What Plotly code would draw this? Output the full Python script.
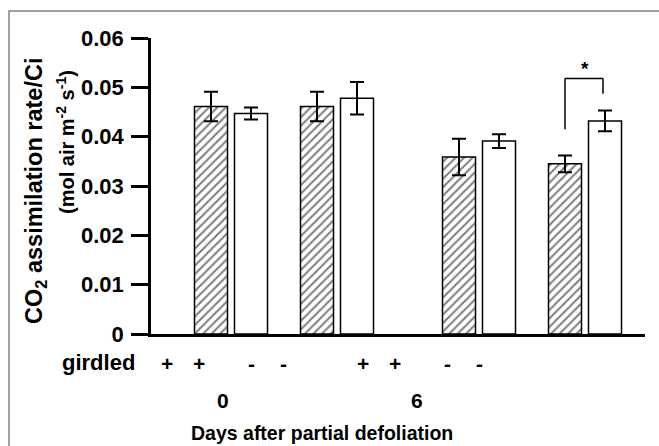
import plotly.graph_objects as go

# ---- data ----
days = ["0", "6"]
girdled = ["+", "-"]                      # per pair within each day
hatched_vals = [0.0461, 0.0461, 0.0359, 0.0345]   # order: d0+, d0-, d6+, d6-
hatched_err = [0.0030, 0.0030, 0.0037, 0.0017]
open_vals = [0.0447, 0.0478, 0.0391, 0.0432]
open_err = [0.0012, 0.0033, 0.0014, 0.0021]
y_ticks = [0, 0.01, 0.02, 0.03, 0.04, 0.05, 0.06]
y_ticklabels = ["0", "0.01", "0.02", "0.03", "0.04", "0.05", "0.06"]

W, H = 659, 446
L, R, T, B = 151, 14, 38, 112
PW, PH = W - L - R, H - T - B
FONT = "Liberation Sans, Arial, sans-serif"

# layout of bar slots (x axis in pixel-like units)
def bar_x(g, p, m):
    return 60 + g * 248 + p * 106 + m * 40

def label_x(g, p, m):
    return 16 + g * 196 + p * 84 + m * 32

hx, ox = [], []
for g in range(len(days)):
    for p in range(len(girdled)):
        hx.append(bar_x(g, p, 0))
        ox.append(bar_x(g, p, 1))

def py(pix):  # pixel row -> paper y
    return (T + PH - pix) / PH

def px(pix):  # pixel col -> paper x
    return (pix - L) / PW

fig = go.Figure()
fig.add_trace(go.Bar(
    x=hx, y=hatched_vals, width=33,
    marker=dict(color="white", line=dict(color="black", width=1.5),
                pattern=dict(shape="/", fgcolor="black", bgcolor="white", size=6, solidity=0.35)),
    error_y=dict(type="data", array=hatched_err, color="black", thickness=2, width=7),
    showlegend=False,
))
fig.add_trace(go.Bar(
    x=ox, y=open_vals, width=33,
    marker=dict(color="white", line=dict(color="black", width=1.5)),
    error_y=dict(type="data", array=open_err, color="black", thickness=2, width=7),
    showlegend=False,
))

ann = []
# girdled +/- labels
for g in range(len(days)):
    for p in range(len(girdled)):
        for m in range(2):
            ann.append(dict(x=label_x(g, p, m), xref="x", y=py(363), yref="paper",
                            text=girdled[p], showarrow=False,
                            font=dict(size=21, family=FONT, color="black", weight="bold"),
                            xanchor="center", yanchor="middle"))
ann.append(dict(x=px(98), xref="paper", y=py(362), yref="paper", text="girdled",
                showarrow=False, font=dict(size=22, family=FONT, color="black", weight="bold"),
                xanchor="center", yanchor="middle"))
for g, d in enumerate(days):
    ann.append(dict(x=72 + g * 194, xref="x", y=py(400), yref="paper", text=d,
                    showarrow=False, font=dict(size=21, family=FONT, color="black", weight="bold"),
                    xanchor="center", yanchor="middle"))
ann.append(dict(x=px(322), xref="paper", y=py(433), yref="paper",
                text="Days after partial defoliation", showarrow=False,
                font=dict(size=19.5, family=FONT, color="black", weight="bold"),
                xanchor="center", yanchor="middle"))
# y title (two lines)
ann.append(dict(x=px(35), xref="paper", y=py(191), yref="paper",
                text="CO<sub>2</sub> assimilation rate/Ci", textangle=-90, showarrow=False,
                font=dict(size=23.5, family=FONT, color="black", weight="bold"),
                xanchor="center", yanchor="middle"))
ann.append(dict(x=px(65), xref="paper", y=py(142), yref="paper",
                text="(mol air m<sup>-2</sup> s<sup>-1</sup>)", textangle=-90, showarrow=False,
                font=dict(size=20, family=FONT, color="black", weight="bold"),
                xanchor="center", yanchor="middle"))
# significance star
x7, x8 = bar_x(1, 1, 0), bar_x(1, 1, 1)
ann.append(dict(x=(x7 + x8) / 2, xref="x", y=0.0538, yref="y", text="*", showarrow=False,
                font=dict(size=19, family=FONT, color="black", weight="bold"),
                xanchor="center", yanchor="middle"))

shapes = [
    # outer grey frame
    dict(type="rect", xref="paper", yref="paper", x0=px(9), x1=px(662), y0=py(452), y1=py(11),
         line=dict(color="#808080", width=1.5), fillcolor="rgba(0,0,0,0)", layer="below"),
    # significance bracket
    dict(type="line", xref="x", yref="y", x0=x7, x1=x7, y0=0.0415, y1=0.0518,
         line=dict(color="black", width=1.5)),
    dict(type="line", xref="x", yref="y", x0=x7, x1=x8 - 2, y0=0.0518, y1=0.0518,
         line=dict(color="black", width=1.5)),
    dict(type="line", xref="x", yref="y", x0=x8 - 2, x1=x8 - 2, y0=0.0518, y1=0.0487,
         line=dict(color="black", width=1.5)),
]

fig.update_layout(
    width=W, height=H,
    margin=dict(l=L, r=R, t=T, b=B, pad=0),
    paper_bgcolor="white", plot_bgcolor="white",
    barmode="overlay",
    annotations=ann, shapes=shapes,
    xaxis=dict(range=[0, PW], showticklabels=False, ticks="", showgrid=False, zeroline=False,
               showline=True, linecolor="black", linewidth=2.5, fixedrange=True),
    yaxis=dict(range=[0, 0.06], tickvals=y_ticks, ticktext=y_ticklabels,
               ticks="outside", ticklen=17, tickwidth=2.5, tickcolor="black",
               showgrid=False, zeroline=False, showline=True, linecolor="black", linewidth=2.5,
               tickfont=dict(size=22, family=FONT, color="black", weight="bold"),
               ticklabelstandoff=3),
)

fig.write_html("out.html")
